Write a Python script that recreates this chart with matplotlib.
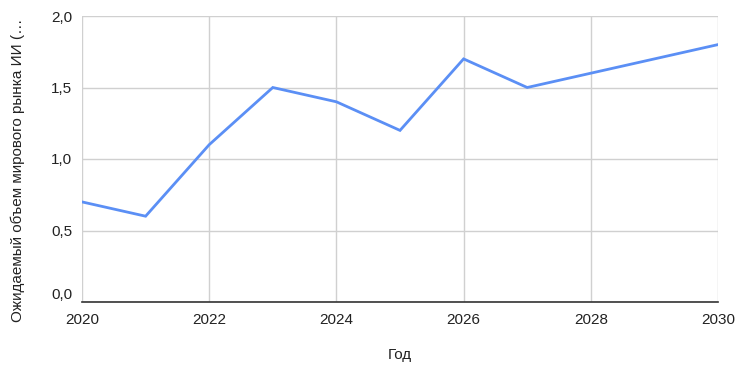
import matplotlib.pyplot as plt
from matplotlib.ticker import FuncFormatter

plt.rcParams['font.family'] = ['Liberation Sans', 'DejaVu Sans']

years  = [2020, 2021, 2022, 2023, 2024, 2025, 2026, 2027, 2028, 2029, 2030]
volume = [0.7, 0.6, 1.1, 1.5, 1.4, 1.2, 1.7, 1.5, 1.6, 1.7, 1.8]

xticks = [2020, 2022, 2024, 2026, 2028, 2030]
yticks = [0.0, 0.5, 1.0, 1.5, 2.0]

ylabel = 'Ожидаемый объем мирового рынка ИИ (…'
xlabel = 'Год'

fig = plt.figure(figsize=(7.36, 3.65), dpi=100)
ax = fig.add_axes([82/736, 1 - 302/365, (718 - 82)/736, (302 - 16)/365])

ax.plot(years, volume, color='#5b8ff5', lw=2, solid_joinstyle='miter', zorder=3)

ax.set_xlim(2020, 2030)
ax.set_ylim(0, 2.0)
ax.set_xticks(xticks)
ax.set_yticks(yticks)
ax.yaxis.set_major_formatter(FuncFormatter(lambda v, p: f'{v:.1f}'.replace('.', ',')))
ax.grid(True, color='#d0d0d0', lw=1)
ax.set_axisbelow(True)

for s in ['top', 'right', 'left']:
    ax.spines[s].set_visible(False)
ax.spines['bottom'].set_color('#333333')
ax.spines['bottom'].set_linewidth(1.2)
ax.spines['bottom'].set_zorder(4)

ax.tick_params(length=0, labelsize=11, colors='#222222')
ax.tick_params(axis='x', pad=8)
ax.tick_params(axis='y', pad=7)
for lab in ax.get_yticklabels():
    lab.set_y(lab.get_position()[1])
ax.yaxis.get_major_ticks()[0].label1.set_verticalalignment('bottom')

fig.text(18/736, 1 - 170/365, ylabel, rotation=90, ha='center', va='center',
         fontsize=11, color='#222222')
fig.text(400/736, 1 - 355/365, xlabel, ha='center', va='center',
         fontsize=11, color='#222222')

fig.savefig('out.png', dpi=100)
